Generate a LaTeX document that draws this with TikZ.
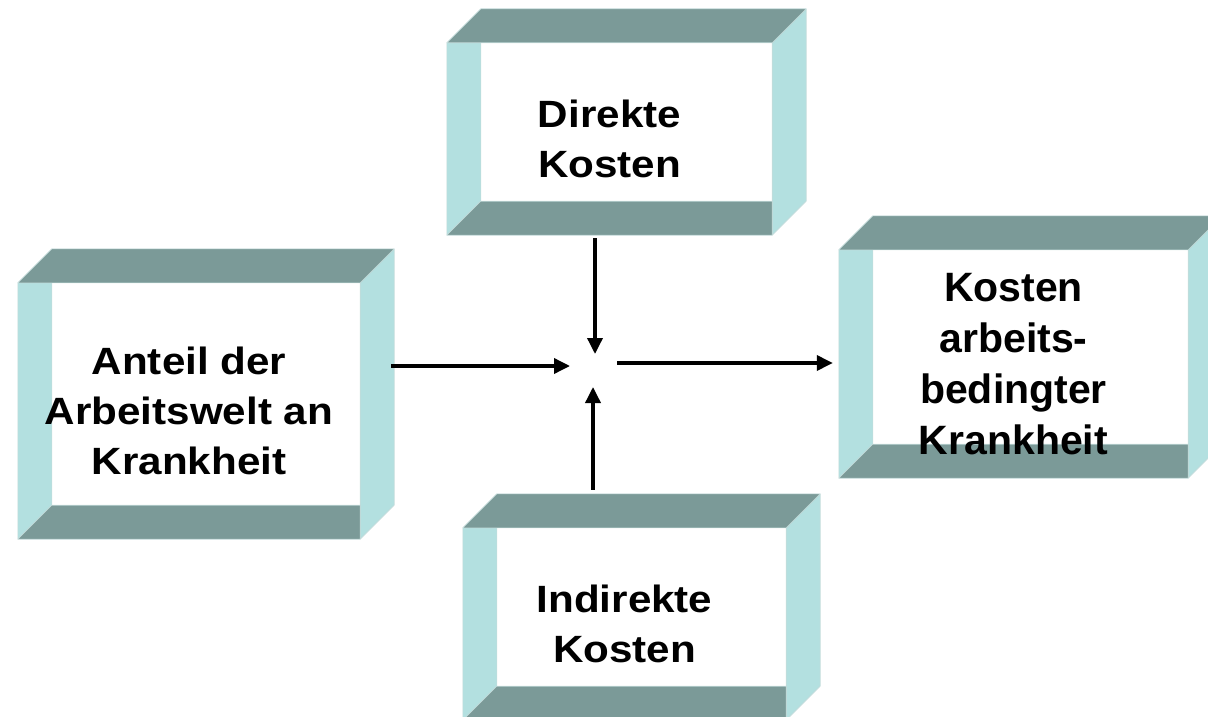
\documentclass[tikz,border=0pt]{standalone}
\usepackage{fontspec}
\setmainfont{Liberation Sans}
\newfontfamily\widesans[FakeStretch=1.11]{Liberation Sans}
\usetikzlibrary{calc,arrows.meta,backgrounds}
\definecolor{bandDark}{HTML}{7B9A98}
\definecolor{bandLight}{HTML}{B3E0E0}
\definecolor{bandEdge}{HTML}{C4DCDB}
\tikzset{
  boxnode/.style={rectangle, inner sep=0pt, align=center,
    font=\widesans\bfseries\fontsize{38}{50}\selectfont},
  darkband/.style={fill=bandDark, draw=bandEdge, line width=0.6pt, line join=round},
  lightband/.style={fill=bandLight, draw=bandEdge, line width=0.6pt, line join=round},
  arr/.style={line width=3.5pt, -{Triangle[length=16pt,width=15pt]}},
}
\begin{document}
\begin{tikzpicture}[x={(1pt,0)}, y={(0,-1pt)}]
\useasboundingbox (0,0) rectangle (1208,717);
\clip (0,0) rectangle (1208,717);

\node[boxnode, minimum width=325pt, minimum height=192pt] (D) at (609.5,139) {Direkte\\Kosten};
\node[boxnode, minimum width=342pt, minimum height=256pt] (A) at (189,411) {Anteil der\\Arbeitswelt an\\Krankheit};
\node[boxnode, minimum width=349pt, minimum height=228pt,
      font=\rmfamily\bfseries\fontsize{41}{51}\selectfont] (K) at (1013.5,364) {Kosten\\arbeits-\\bedingter\\Krankheit};
\node[boxnode, minimum width=323pt, minimum height=192pt] (I) at (624.5,624) {Indirekte\\Kosten};

\begin{scope}[on background layer]
\foreach \n in {D,A,K,I}{
  \path[lightband] (\n.north west) -- ($(\n.north west)+(34,0)$) -- ($(\n.south west)+(34,-34)$) -- (\n.south west) -- cycle;
  \path[lightband] (\n.north east) -- ($(\n.north east)+(34,-34)$) -- ($(\n.south east)+(34,-34)$) -- (\n.south east) -- cycle;
  \path[darkband] (\n.north west) -- ($(\n.north west)+(34,-34)$) -- ($(\n.north east)+(34,-34)$) -- (\n.north east) -- cycle;
  \path[darkband] (\n.south west) -- ($(\n.south west)+(34,-34)$) -- ($(\n.south east)+(0,-34)$) -- (\n.south east) -- cycle;
}
\end{scope}

\coordinate (hub) at (594,365);
\draw[arr] ($(D.south -| hub)+(1,3)$) -- ($(hub)+(1,-11)$);
\draw[arr] ($(I.north -| hub)+(-1,-38)$) -- ($(hub)+(-1,22)$);
\draw[arr] ($(A.east |- hub)+(31,1)$) -- ($(hub)+(-24,1)$);
\draw[arr] ($(hub)+(23,-2)$) -- ($(K.west |- hub)+(-6,-2)$);
\end{tikzpicture}
\end{document}
